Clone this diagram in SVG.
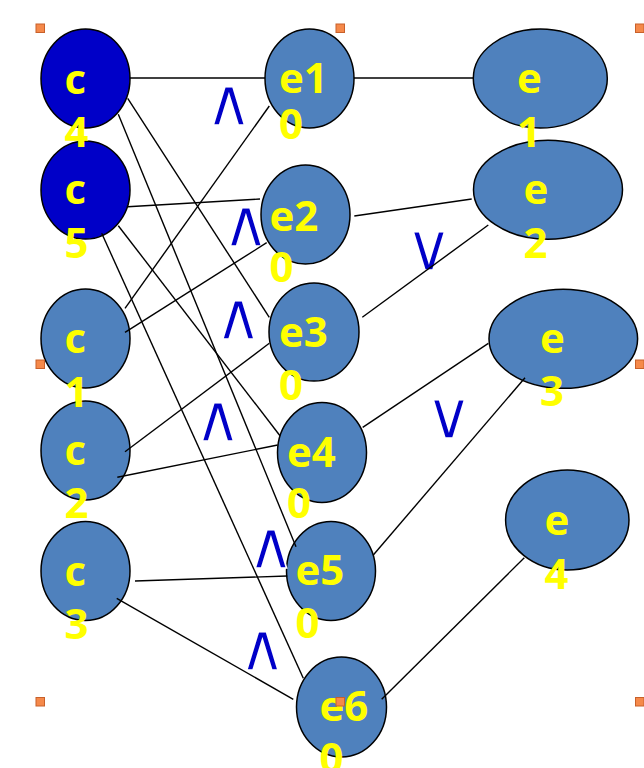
<svg xmlns="http://www.w3.org/2000/svg" width="644" height="768" viewBox="0 0 644 768">
<style>
.n{fill:#4f81bd;stroke:#000;stroke-width:1.5}
.d{fill:#0000c8;stroke:#000;stroke-width:1.5}
.t{font-family:"Open Sans","Liberation Sans",sans-serif;font-weight:bold;font-size:42px;fill:#ffff00}
.s{font-family:"DejaVu Sans",sans-serif;font-size:66px;fill:#0000c8;stroke:#fff;stroke-width:1.6;text-anchor:middle}
.c line{stroke:#000;stroke-width:1.4}
.h{fill:#f5894a;stroke:#c8602a;stroke-width:1}
</style>
<rect width="644" height="768" fill="#fff"/>
<g id="c5"><ellipse class="d" cx="85.5" cy="190" rx="44.5" ry="49"/><text class="t"><tspan x="64.5" y="204">c</tspan><tspan x="64.5" y="258">5</tspan></text></g>
<g id="c4"><ellipse class="d" cx="85.5" cy="78.5" rx="44.5" ry="49.5"/><text class="t"><tspan x="64.5" y="94">c</tspan><tspan x="64.5" y="147">4</tspan></text></g>
<g id="c2"><ellipse class="n" cx="85.5" cy="450.5" rx="44.5" ry="49.5"/><text class="t"><tspan x="64.5" y="465">c</tspan><tspan x="64.5" y="518">2</tspan></text></g>
<g id="c1"><ellipse class="n" cx="85.5" cy="338.5" rx="44.5" ry="49.5"/><text class="t"><tspan x="64.5" y="352.5">c</tspan><tspan x="64.5" y="406.5">1</tspan></text></g>
<g id="c3"><ellipse class="n" cx="85.5" cy="571" rx="44.5" ry="49.5"/><text class="t"><tspan x="64.5" y="586">c</tspan><tspan x="64.5" y="639">3</tspan></text></g>
<g id="e10"><ellipse class="n" cx="309.5" cy="78.5" rx="44.5" ry="49.5"/><text class="t"><tspan x="279" y="92.5">e1</tspan><tspan x="279" y="139">0</tspan></text></g>
<g id="e20"><ellipse class="n" cx="305.5" cy="214.5" rx="44.5" ry="49.5"/><text class="t"><tspan x="269.5" y="230.5">e2</tspan><tspan x="269.5" y="282">0</tspan></text></g>
<g id="e30"><ellipse class="n" cx="314" cy="332" rx="45" ry="49"/><text class="t"><tspan x="279" y="347">e3</tspan><tspan x="279" y="400">0</tspan></text></g>
<g id="e40"><ellipse class="n" cx="322" cy="452.5" rx="44.5" ry="50"/><text class="t"><tspan x="287" y="467">e4</tspan><tspan x="287" y="518">0</tspan></text></g>
<g id="e50"><ellipse class="n" cx="331" cy="571" rx="44.5" ry="49.5"/><text class="t"><tspan x="295.5" y="585">e5</tspan><tspan x="295.5" y="638">0</tspan></text></g>
<g id="e60"><ellipse class="n" cx="341.5" cy="707" rx="45" ry="50"/><text class="t"><tspan x="319.5" y="720.5">e6</tspan><tspan x="319.5" y="773">0</tspan></text></g>
<g id="e2"><ellipse class="n" cx="548" cy="189.7" rx="74.5" ry="49.5"/><text class="t"><tspan x="523.5" y="204">e</tspan><tspan x="523.5" y="258">2</tspan></text></g>
<g id="e1"><ellipse class="n" cx="540.3" cy="78.5" rx="67" ry="49.5"/><text class="t"><tspan x="517" y="92.5">e</tspan><tspan x="517" y="146.5">1</tspan></text></g>
<g id="e3"><ellipse class="n" cx="563.3" cy="338.8" rx="74.3" ry="49.5"/><text class="t"><tspan x="540" y="353">e</tspan><tspan x="540" y="406">3</tspan></text></g>
<g id="e4"><ellipse class="n" cx="567.3" cy="520" rx="61.7" ry="50"/><text class="t"><tspan x="544.5" y="535">e</tspan><tspan x="544.5" y="589">4</tspan></text></g>
<g id="symbols">
<text class="s" x="229" y="125">∧</text>
<text class="s" x="246" y="245.5">∧</text>
<text class="s" x="238.5" y="339">∧</text>
<text class="s" x="218" y="441">∧</text>
<text class="s" x="271" y="568">∧</text>
<text class="s" x="262.5" y="670">∧</text>
<text class="s" x="429" y="269.5">∨</text>
<text class="s" x="449" y="438">∨</text>
</g>
<g id="connectors" class="c">
<line x1="130" y1="78" x2="265" y2="78"/>
<line x1="354" y1="78" x2="473.5" y2="78"/>
<line x1="127.7" y1="98.3" x2="269.3" y2="317.3"/>
<line x1="118.3" y1="114.3" x2="296" y2="546.7"/>
<line x1="127.7" y1="206.7" x2="260" y2="199"/>
<line x1="118.3" y1="225.7" x2="280" y2="435.7"/>
<line x1="101.7" y1="233.3" x2="303.3" y2="678.3"/>
<line x1="125" y1="308.3" x2="269.3" y2="106"/>
<line x1="125" y1="332.3" x2="266.7" y2="242.7"/>
<line x1="125" y1="451.7" x2="269.3" y2="343.3"/>
<line x1="117.3" y1="477.3" x2="277.7" y2="445"/>
<line x1="135" y1="581" x2="287.3" y2="576"/>
<line x1="116.7" y1="598.3" x2="293.3" y2="699.3"/>
<line x1="354.3" y1="216" x2="471.7" y2="199"/>
<line x1="362.3" y1="317.3" x2="488.3" y2="225"/>
<line x1="362.7" y1="427.3" x2="488.3" y2="343.3"/>
<line x1="373.3" y1="555" x2="525" y2="377.7"/>
<line x1="381.7" y1="699.3" x2="524.3" y2="557.7"/>
</g>
<g id="handles">
<rect class="h" x="36" y="24" width="8.5" height="8.5"/>
<rect class="h" x="336" y="24" width="8.5" height="8.5"/>
<rect class="h" x="635.5" y="24" width="8.5" height="8.5"/>
<rect class="h" x="36" y="360" width="8.5" height="8.5"/>
<rect class="h" x="635.5" y="360" width="8.5" height="8.5"/>
<rect class="h" x="36" y="697.5" width="8.5" height="8.5"/>
<rect class="h" x="336" y="697.5" width="8.5" height="8.5"/>
<rect class="h" x="635.5" y="697.5" width="8.5" height="8.5"/>
</g>
</svg>
